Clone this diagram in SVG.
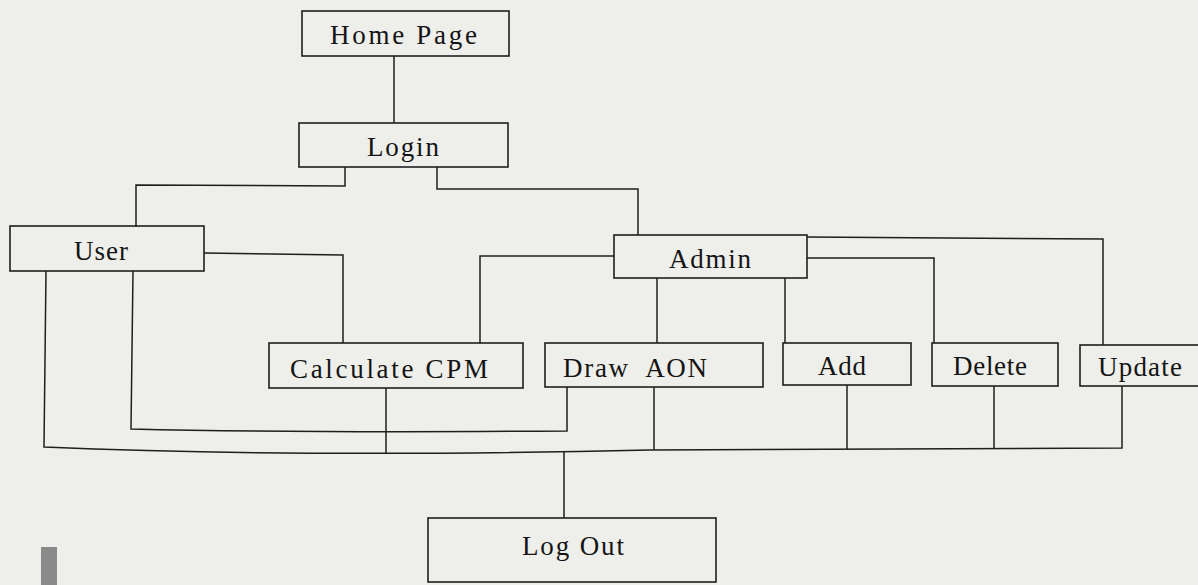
<svg xmlns="http://www.w3.org/2000/svg" width="1198" height="585" viewBox="0 0 1198 585">
<style>
.box{fill:none;stroke:#1e1e1e;stroke-width:1.6}
.ln{fill:none;stroke:#1e1e1e;stroke-width:1.5;stroke-linejoin:miter}
.lbl{font-family:"Liberation Serif","Times New Roman",serif;font-size:27px;fill:#141414}
</style>
<rect x="0" y="0" width="1198" height="585" fill="#eeeeea"/>
<rect x="41" y="547" width="16" height="38" fill="#8a8a8a"/>
<g id="connectors">
<polyline class="ln" points="394,56 394,123"/>
<polyline class="ln" points="345,167 345,186 136,185 136,227"/>
<polyline class="ln" points="437,167 437,189 638,189 638,235"/>
<polyline class="ln" points="204,253 343,255 343,343"/>
<polyline class="ln" points="614,256 480,256 480,343"/>
<polyline class="ln" points="657,278 657,343"/>
<polyline class="ln" points="785,278 785,343"/>
<polyline class="ln" points="807,258 934,258 934,343"/>
<polyline class="ln" points="807,237 1103,239 1103,345"/>
<path class="ln" d="M46,271 L44,447 Q300,458 650,450 L1122,448 L1122,386"/>
<path class="ln" d="M133,271 L131,429 Q300,433 567,431 L567,387"/>
<polyline class="ln" points="386,388 386,454"/>
<polyline class="ln" points="654,387 654,450"/>
<polyline class="ln" points="847,385 847,449"/>
<polyline class="ln" points="994,386 994,448"/>
<polyline class="ln" points="564,452 564,518"/>
</g>
<g id="home">
<rect class="box" x="302" y="11" width="207" height="45"/>
<text class="lbl" x="330" y="44" textLength="147" lengthAdjust="spacing">Home Page</text>
</g>
<g id="login">
<rect class="box" x="299" y="123" width="209" height="44"/>
<text class="lbl" x="367" y="156" textLength="72" lengthAdjust="spacing">Login</text>
</g>
<g id="user">
<rect class="box" x="10" y="226" width="194" height="45"/>
<text class="lbl" x="74" y="260" textLength="54" lengthAdjust="spacing">User</text>
</g>
<g id="admin">
<rect class="box" x="614" y="235" width="193" height="43"/>
<text class="lbl" x="669" y="268" textLength="82" lengthAdjust="spacing">Admin</text>
</g>
<g id="cpm">
<rect class="box" x="269" y="343" width="254" height="45"/>
<text class="lbl" x="290" y="378" textLength="198" lengthAdjust="spacing">Calculate CPM</text>
</g>
<g id="aon">
<rect class="box" x="545" y="343" width="218" height="44"/>
<text class="lbl" x="563" y="377" textLength="144" lengthAdjust="spacing" xml:space="preserve">Draw  AON</text>
</g>
<g id="add">
<rect class="box" x="783" y="343" width="128" height="42"/>
<text class="lbl" x="818" y="375" textLength="48" lengthAdjust="spacing">Add</text>
</g>
<g id="delete">
<rect class="box" x="932" y="343" width="126" height="43"/>
<text class="lbl" x="953" y="375" textLength="74" lengthAdjust="spacing">Delete</text>
</g>
<g id="update">
<rect class="box" x="1080" y="345" width="130" height="41"/>
<text class="lbl" x="1098" y="376" textLength="84" lengthAdjust="spacing">Update</text>
</g>
<g id="logout">
<rect class="box" x="428" y="518" width="288" height="64"/>
<text class="lbl" x="522" y="555" textLength="102" lengthAdjust="spacing">Log Out</text>
</g>
</svg>
